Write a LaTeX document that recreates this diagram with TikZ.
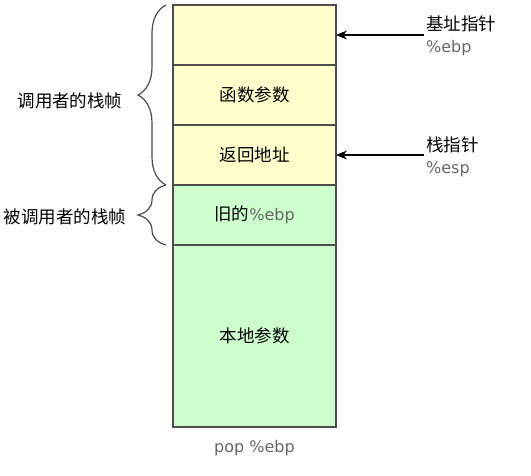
\documentclass[tikz,border=0pt]{standalone}
\usepackage{fontspec}
\setmainfont{DejaVu Sans}
\newfontfamily\cjk{Noto Sans CJK SC}
\usetikzlibrary{positioning}
\usetikzlibrary{arrows.meta}
\usetikzlibrary{decorations.pathreplacing}

\definecolor{calleryellow}{HTML}{FFFFCC}
\definecolor{calleegreen}{HTML}{CCFFCC}
\definecolor{edgegray}{HTML}{4D4D4D}
\definecolor{reggray}{HTML}{666666}

\tikzset{
    slot/.style={draw=edgegray, line width=1.2pt, minimum width=163pt, minimum height=60pt,
        inner sep=0pt, outer sep=0pt, font=\cjk\fontsize{17.5}{20}\selectfont},
    caller/.style={slot, fill=calleryellow},
    callee/.style={slot, fill=calleegreen},
    pointer/.style={-{Stealth[length=11pt,width=9pt]}, line width=1.2pt},
    framebrace/.style={draw=edgegray, line width=1.2pt, decorate, decoration={brace, amplitude=28pt}},
    tag/.style={font=\cjk\fontsize{17.5}{22}\selectfont, align=left, inner sep=2pt},
    reg/.style={font=\fontsize{16}{20}\selectfont, text=reggray}
}

\begin{document}
\begin{tikzpicture}[x=1pt, y=-1pt]
        \useasboundingbox (0,0) rectangle (531,475);
        % stack slots
        \node[caller] (base) at (254.5,35) {};
        \node[caller, below=0pt of base] (args) {函数参数};
        \node[caller, below=0pt of args] (ret) {返回地址};
        \node[callee, below=0pt of ret] (oldebp) {旧的{\normalfont\fontsize{16}{20}\selectfont\color{reggray}\%ebp}};
        \node[callee, below=0pt of oldebp, minimum height=182pt] (locals) {本地参数};
        \node[reg, below=10pt of locals] (popline) {pop \%ebp};

        % pointers
        \node[tag, anchor=west] (ebptag) at (424,36) {基址指针\\{\normalfont\fontsize{16}{20}\selectfont\color{reggray}\%ebp}};
        \node[tag, anchor=west] (esptag) at (424,157) {栈指针\\{\normalfont\fontsize{16}{20}\selectfont\color{reggray}\%esp}};
        \draw[pointer] (ebptag.west |- base.east) -- (base.east);
        \draw[pointer] (esptag.west |- ret.east) -- (ret.east);

        % frames
        \draw[framebrace] ([xshift=-7pt]ret.south west) -- ([xshift=-7pt]base.north west);
        \draw[framebrace] ([xshift=-7pt]oldebp.south west) -- ([xshift=-7pt]oldebp.north west);
        \node[tag] (callerframe) at (70,101) {调用者的栈帧};
        \node[tag] (calleeframe) at (65,217) {被调用者的栈帧};
    \end{tikzpicture}
\end{document}
